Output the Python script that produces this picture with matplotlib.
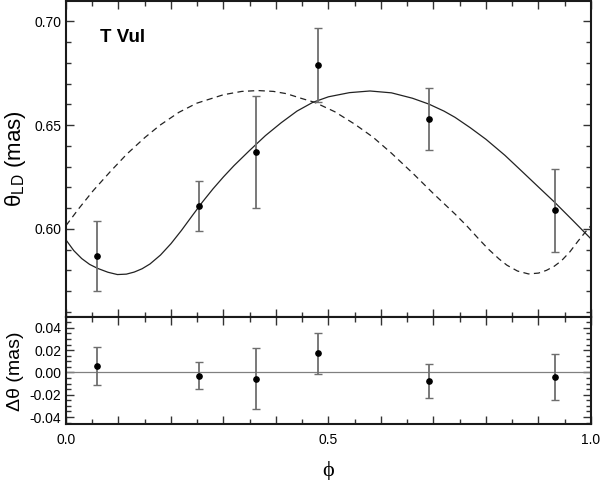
import matplotlib
matplotlib.use('Agg')
import matplotlib.pyplot as plt
from matplotlib.ticker import MultipleLocator, FuncFormatter

plt.rcParams['font.family'] = ['Liberation Sans', 'DejaVu Sans']

# observed diameters
phase = [0.060, 0.253, 0.362, 0.480, 0.691, 0.931]
theta = [0.587, 0.611, 0.637, 0.679, 0.653, 0.609]
theta_lo = [0.570, 0.599, 0.610, 0.661, 0.638, 0.589]
theta_hi = [0.604, 0.623, 0.664, 0.697, 0.668, 0.629]

# residuals
resid = [0.0061, -0.0029, -0.0056, 0.0172, -0.0073, -0.0040]
resid_lo = [-0.0109, -0.0148, -0.0325, -0.0013, -0.0226, -0.0244]
resid_hi = [0.0229, 0.0091, 0.0217, 0.0352, 0.0079, 0.0166]

# fitted model (solid)
fit_phase = [0.000, 0.015, 0.030, 0.045, 0.060, 0.080, 0.098, 0.115, 0.130,
             0.145, 0.160, 0.180, 0.200, 0.220, 0.240, 0.260, 0.280, 0.300,
             0.320, 0.350, 0.380, 0.410, 0.440, 0.470, 0.500, 0.540, 0.579,
             0.620, 0.660, 0.691, 0.720, 0.741, 0.770, 0.800, 0.836, 0.870,
             0.900, 0.931, 0.965, 1.000]
fit_theta = [0.5947, 0.5895, 0.5857, 0.5829, 0.5810, 0.5791, 0.5780, 0.5782,
             0.5792, 0.5808, 0.5831, 0.5874, 0.5929, 0.5993, 0.6062, 0.6130,
             0.6193, 0.6251, 0.6305, 0.6379, 0.6450, 0.6512, 0.6568, 0.6610,
             0.6637, 0.6657, 0.6665, 0.6656, 0.6630, 0.6602, 0.6568, 0.6538,
             0.6488, 0.6432, 0.6355, 0.6274, 0.6202, 0.6128, 0.6042, 0.5952]

# comparison model (dashed)
alt_phase = [0.000, 0.025, 0.052, 0.085, 0.116, 0.150, 0.179, 0.215, 0.249,
             0.300, 0.335, 0.366, 0.395, 0.420, 0.450, 0.474, 0.512, 0.550,
             0.585, 0.620, 0.662, 0.700, 0.741, 0.763, 0.785, 0.804, 0.825,
             0.840, 0.860, 0.881, 0.900, 0.915, 0.930, 0.944, 0.960, 0.975,
             0.990, 1.000]
alt_theta = [0.6016, 0.6100, 0.6185, 0.6278, 0.6361, 0.6440, 0.6500, 0.6562,
             0.6606, 0.6647, 0.6663, 0.6667, 0.6663, 0.6652, 0.6628, 0.6610,
             0.6565, 0.6505, 0.6442, 0.6365, 0.6265, 0.6170, 0.6072, 0.6016,
             0.5955, 0.5904, 0.5855, 0.5825, 0.5797, 0.5783, 0.5787, 0.5800,
             0.5820, 0.5847, 0.5890, 0.5940, 0.5987, 0.6016]

err_col = '#6e6e6e'


def style_axes(ax):
    for s in ax.spines.values():
        s.set_linewidth(1.5)
        s.set_color('#1a1a1a')
    ax.tick_params(which='both', direction='in', top=True, right=True,
                   labelsize=10, color='#333333')
    ax.tick_params(which='major', length=6, width=1.0)
    ax.tick_params(which='minor', length=3.5, width=1.0)
    ax.xaxis.set_major_locator(MultipleLocator(0.1))
    ax.xaxis.set_minor_locator(MultipleLocator(0.05))
    ax.set_xlim(0, 1)


fig = plt.figure(figsize=(6.01, 4.8), dpi=100)
ax1 = fig.add_axes([0.1098, 0.339, 0.8735, 0.659])
ax2 = fig.add_axes([0.1098, 0.116, 0.8735, 0.223])

# top panel
ax1.plot(alt_phase, alt_theta, color='#222222', lw=0.9, dashes=(5, 3.5))
ax1.plot(fit_phase, fit_theta, color='#222222', lw=0.9)
yerr = [[t - lo for t, lo in zip(theta, theta_lo)],
        [hi - t for t, hi in zip(theta, theta_hi)]]
ax1.errorbar(phase, theta, yerr=yerr, fmt='none', ecolor=err_col,
             elinewidth=1.3, capsize=3, capthick=1.0)
ax1.plot(phase, theta, 'o', color='black', ms=3.8)
style_axes(ax1)
ax1.set_ylim(0.5574, 0.7099)
ax1.yaxis.set_major_locator(MultipleLocator(0.05))
ax1.yaxis.set_minor_locator(MultipleLocator(0.01))
ax1.yaxis.set_major_formatter(FuncFormatter(lambda v, p: '%.2f' % v))
ax1.set_xticklabels([])
ax1.set_ylabel(r'$\mathregular{\theta_{LD}}$ (mas)', fontsize=16, va='center')
ax1.yaxis.set_label_coords(-0.097, 0.5)
ax1.text(0.065, 0.87, 'T Vul', transform=ax1.transAxes, fontsize=13.5,
         fontweight='bold', va='baseline')

# bottom panel
ax2.axhline(0, color='#808080', lw=0.9)
rerr = [[r - lo for r, lo in zip(resid, resid_lo)],
        [hi - r for r, hi in zip(resid, resid_hi)]]
ax2.errorbar(phase, resid, yerr=rerr, fmt='none', ecolor=err_col,
             elinewidth=1.3, capsize=3, capthick=1.0)
ax2.plot(phase, resid, 'o', color='black', ms=3.8)
style_axes(ax2)
ax2.set_ylim(-0.0465, 0.0495)
ax2.yaxis.set_major_locator(MultipleLocator(0.02))
ax2.yaxis.set_minor_locator(MultipleLocator(0.005))
ax2.yaxis.set_major_formatter(FuncFormatter(lambda v, p: '%.2f' % v))
ax2.xaxis.set_major_formatter(
    FuncFormatter(lambda v, p: '%.1f' % v if abs(v * 2 - round(v * 2)) < 1e-6 else ''))
ax2.tick_params(axis='x', pad=6)
ax2.set_ylabel('\u0394\u03b8 (mas)', fontsize=14, va='center')
ax2.yaxis.set_label_coords(-0.097, 0.5)

fig.text(328 / 601, 1 - 471 / 480, '\u03d5', fontsize=16, family='Liberation Serif',
         ha='center', va='center')

fig.savefig('out.png', dpi=100)
